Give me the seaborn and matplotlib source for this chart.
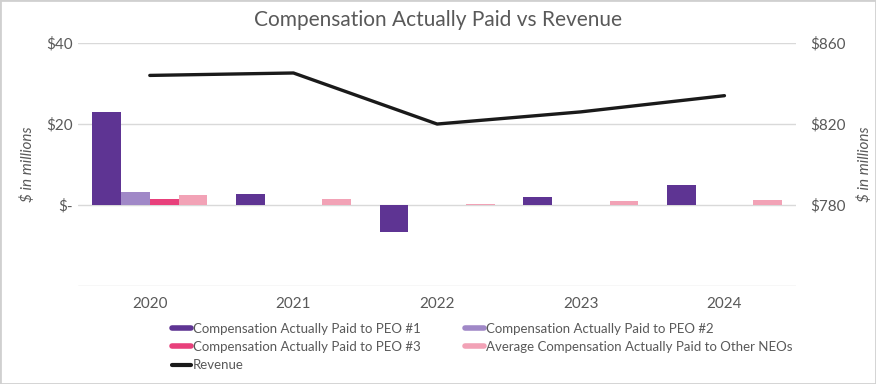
import numpy as np
import pandas as pd
import matplotlib.pyplot as plt
import seaborn as sns
from matplotlib.lines import Line2D
from matplotlib.patches import Rectangle

# --- data ---
years = ['2020', '2021', '2022', '2023', '2024']
peo1 = [23.0, 2.8, -6.7, 1.9, 4.9]
peo2 = [3.3, np.nan, np.nan, np.nan, np.nan]
peo3 = [1.6, np.nan, np.nan, np.nan, np.nan]
neos = [2.4, 1.5, 0.3, 1.0, 1.3]
revenue = [844, 845.2, 820, 826, 834]

series_names = ['Compensation Actually Paid to PEO #1',
                'Compensation Actually Paid to PEO #2',
                'Compensation Actually Paid to PEO #3',
                'Average Compensation Actually Paid to Other NEOs']
colors = ['#5E3493', '#A088C7', '#E8407B', '#F2A2B6']

df = pd.DataFrame({'Year': years * 4,
                   'Value': peo1 + peo2 + peo3 + neos,
                   'Series': sum([[n] * len(years) for n in series_names], [])})
df = df.dropna()

sns.set_style('white')
plt.rcParams['font.family'] = ['Lato', 'DejaVu Sans']
gray = '#595959'

fig = plt.figure(figsize=(8.76, 3.84), dpi=100)
ax = fig.add_axes([0.089, 0.255, 0.82, 0.633])

sns.barplot(data=df, x='Year', y='Value', hue='Series', order=years,
            hue_order=series_names, palette=colors, errorbar=None,
            width=0.8, saturation=1, linewidth=0, ax=ax, legend=False)

ax.set_ylim(-20, 40)
ax.set_yticks([-20, 0, 20, 40])
ax.set_yticklabels(['', '$-', '$20', '$40'])
ax.set_xlim(-0.5, 4.5)
ax.grid(axis='y', color='#d9d9d9', linewidth=1)
ax.set_axisbelow(True)
for s in ax.spines.values():
    s.set_visible(False)
ax.set_xlabel('')
ax.set_ylabel('$ in millions', fontstyle='italic', color=gray, fontsize=11, labelpad=8)
ax.tick_params(axis='both', length=0, colors=gray, labelsize=11)
ax.tick_params(axis='x', pad=8)

ax2 = ax.twinx()
sns.lineplot(x=np.arange(len(years)), y=revenue, color='#1a1a1a', linewidth=2.4, ax=ax2)
ax2.set_ylim(740, 860)
ax2.set_yticks([740, 780, 820, 860])
ax2.set_yticklabels(['', '$780', '$820', '$860'])
for s in ax2.spines.values():
    s.set_visible(False)
ax2.tick_params(axis='y', length=0, colors=gray, labelsize=11, pad=10)
ax2.set_ylabel('$ in millions', fontstyle='italic', color=gray, fontsize=11, labelpad=8)

fig.suptitle('Compensation Actually Paid vs Revenue', y=0.975, fontsize=15, color=gray)

# legend, row-major order in two columns
h = [Line2D([], [], color=c, lw=4) for c in colors]
rev = Line2D([], [], color='#1a1a1a', lw=3)
handles = [h[0], h[2], rev, h[1], h[3]]
labels = [series_names[0], series_names[2], 'Revenue', series_names[1], series_names[3]]
fig.legend(handles, labels, ncol=2, loc='lower left', bbox_to_anchor=(0.183, 0.002),
           frameon=False, fontsize=9.5, labelcolor=gray, handlelength=1.4,
           handletextpad=0.15, columnspacing=3.4, labelspacing=0.48)

fig.patches.append(Rectangle((0, 0), 1, 1, transform=fig.transFigure, fill=False,
                             edgecolor='#d0d0d0', linewidth=2))

fig.savefig('out.png', dpi=100)
